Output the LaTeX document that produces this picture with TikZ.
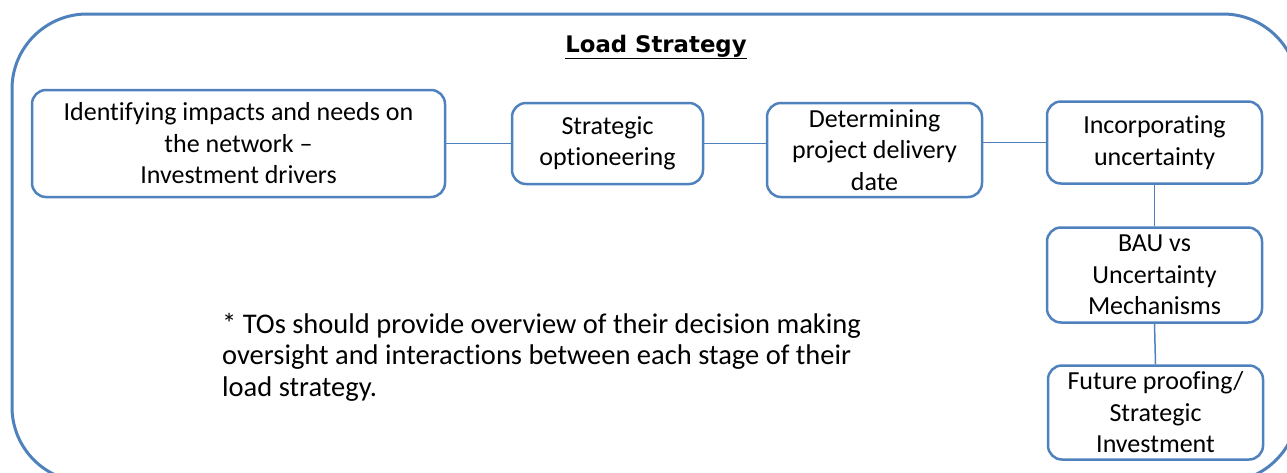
\documentclass[tikz,border=0pt]{standalone}
\usepackage{fontspec}
\setmainfont[Ligatures={NoCommon}]{Carlito}
\newfontfamily\titlefont{DejaVu Sans}
\definecolor{lineblue}{HTML}{4F81BD}
\begin{document}
\begin{tikzpicture}[x=1pt,y=-1pt,
  frame/.style={draw=lineblue, line width=3pt, rounded corners=75pt, inner sep=0pt},
  stage/.style={draw=lineblue, line width=2.5pt, rounded corners=14pt, align=center,
    font=\fontsize{26}{31.5}\selectfont, inner sep=0pt},
  link/.style={draw=lineblue, line width=1.5pt},
  note/.style={align=left, anchor=west, inner sep=0pt, font=\fontsize{28.5}{31.5}\selectfont}]
\useasboundingbox (0,0) rectangle (1287,472);

% outer frame
\node[frame, minimum width=1286pt, minimum height=468pt] (frame) at (655,248) {};

% heading
\node[inner sep=0pt, font=\titlefont\bfseries\fontsize{22.8}{26}\selectfont] (title) at (656,47)
  {\underline{Load\ Strategy}};

% stages
\node[stage, minimum width=413pt, minimum height=107pt] (impacts) at (238.5,143.5)
  {Identifying impacts and needs on\\the network --\\Investment drivers};
\node[stage, minimum width=191pt, minimum height=81pt] (option) at (607.5,143.5)
  {Strategic\\optioneering};
\node[stage, minimum width=215pt, minimum height=94pt] (delivery) at (874.5,150)
  {Determining\\project delivery\\date};
\node[stage, minimum width=215pt, minimum height=82pt] (uncert) at (1154.5,142.5)
  {Incorporating\\uncertainty};
\node[stage, minimum width=215pt, minimum height=95pt] (bau) at (1154.5,275)
  {BAU vs\\Uncertainty\\Mechanisms};
\node[stage, minimum width=215pt, minimum height=94pt] (future) at (1155.5,412.5)
  {Future proofing/\\Strategic\\Investment};

% connectors
\draw[link] (impacts) -- (option);
\draw[link] (option.east) -- (option.east -| delivery.west);
\draw[link] (uncert.west -| delivery.east) -- (uncert.west);
\draw[link] (uncert) -- (bau);
\draw[link] (bau.south) -- (future.north);

% footnote
\node[note] (remark) at (222,357)
  {* TOs should provide overview of their decision making\\
   oversight and interactions between each stage of their\\
   load strategy.};
\end{tikzpicture}
\end{document}
